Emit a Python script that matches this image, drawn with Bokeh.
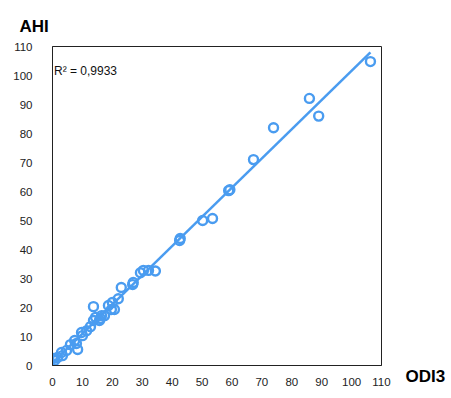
import numpy as np
from bokeh.plotting import figure
from bokeh.models import Range1d, FixedTicker, Label, Title, LinearAxis
from bokeh.embed import file_html
from bokeh.resources import INLINE

# ODI3 (x) and AHI (y) values
odi3 = [106.3, 85.9, 89.0, 73.9, 67.2, 58.9, 59.3, 53.5, 50.2, 42.5, 42.7,
        34.4, 32.1, 30.4, 29.4, 26.8, 27.0, 23.0, 22.0, 20.0, 18.7, 19.7,
        20.7, 13.7, 14.4, 16.0, 16.4, 17.4, 15.7, 12.7, 13.7, 11.4, 10.0,
        9.7, 8.0, 8.4, 7.4, 6.0, 4.7, 3.0, 3.3, 1.7, 0.7, 0.2]
ahi = [104.8, 92.1, 86.0, 82.0, 71.0, 60.3, 60.6, 50.7, 50.0, 43.1, 43.8,
       32.6, 32.8, 32.8, 32.0, 27.9, 28.6, 26.9, 23.0, 21.7, 20.7, 19.3,
       19.3, 20.3, 16.6, 16.2, 17.2, 17.2, 15.5, 13.4, 15.5, 12.0, 10.3,
       11.4, 7.6, 5.5, 8.6, 7.2, 5.2, 4.5, 3.4, 2.8, 1.7, 2.4]
ticks = [0, 10, 20, 30, 40, 50, 60, 70, 80, 90, 100, 110]
r2_text = "R² = 0,9933"
x_title = "ODI3"
y_title = "AHI"

blue = "#4a9cf0"

p = figure(width=448, height=390, output_backend="svg", toolbar_location=None,
           x_range=Range1d(0, 110), y_range=Range1d(0, 110),
           min_border_left=52, min_border_top=46, min_border_right=66,
           min_border_bottom=25)
p.xgrid.visible = False
p.ygrid.visible = False
p.outline_line_color = "#222222"
p.outline_line_width = 1
p.background_fill_color = "white"
p.border_fill_color = "white"

for ax in (p.xaxis[0], p.yaxis[0]):
    ax.ticker = FixedTicker(ticks=ticks)
    ax.major_tick_line_color = None
    ax.minor_tick_line_color = None
    ax.axis_line_color = "#222222"
    ax.major_label_text_font = "Liberation Sans"
    ax.major_label_text_font_size = "11.5px"
    ax.major_label_text_color = "#222222"
p.xaxis[0].major_label_standoff = 6
p.yaxis[0].major_label_standoff = 14

# x title placed to the right of the frame, at the level of the tick labels
p.extra_y_ranges = {"lab": Range1d(0, 110)}
xt_axis = LinearAxis(y_range_name="lab", ticker=FixedTicker(ticks=[0]),
                     major_label_overrides={0: "\n" + x_title},
                     major_tick_line_color=None, minor_tick_line_color=None,
                     axis_line_color=None, major_label_standoff=18,
                     major_label_text_font="Liberation Sans",
                     major_label_text_font_size="17px",
                     major_label_text_font_style="bold",
                     major_label_text_color="black",
                     major_label_text_line_height=1.2)
p.add_layout(xt_axis, "right")

p.add_layout(Title(text=y_title, align="left", offset=-33, standoff=22,
                   text_font="Liberation Sans", text_font_size="17px",
                   text_font_style="bold", text_color="black"), "above")

# regression line from data
coef = np.polyfit(odi3, ahi, 1)
xs = np.array([min(odi3), max(odi3)])
p.line(xs, np.polyval(coef, xs), line_color=blue, line_width=2.5)

p.scatter(odi3, ahi, marker="circle", size=9, fill_alpha=0,
          line_color=blue, line_width=2.4)

p.add_layout(Label(x=0.5, y=101.4, text=r2_text, text_font="Liberation Sans",
                   text_font_size="12px", text_baseline="middle",
                   text_color="#111111"))

open("out.html", "w").write(file_html(p, INLINE))
